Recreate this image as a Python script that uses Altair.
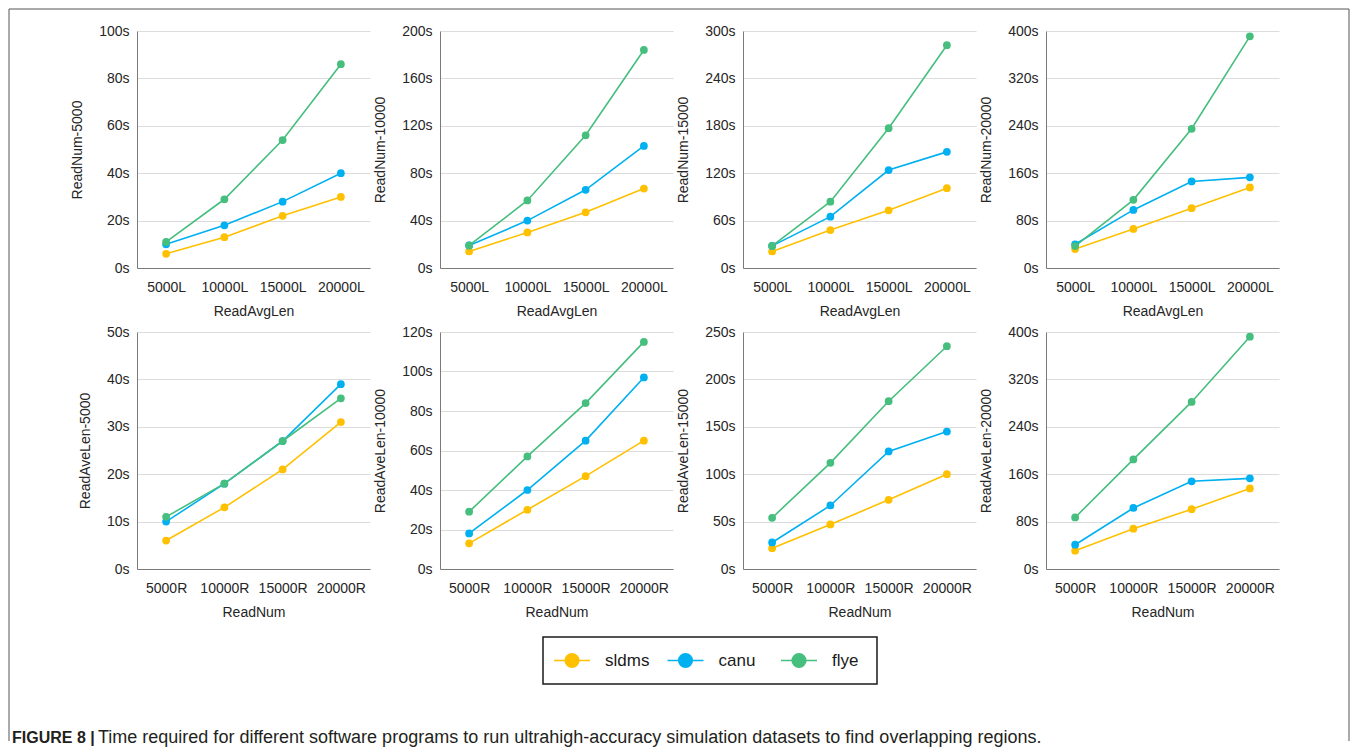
import altair as alt
import pandas as pd

# ---------------- data ----------------
series = ["sldms", "canu", "flye"]
colors = ["#FFC000", "#00B0F0", "#45BE7E"]

x_top = ["5000L", "10000L", "15000L", "20000L"]
x_bottom = ["5000R", "10000R", "15000R", "20000R"]
top_x_title = "ReadAvgLen"
bottom_x_title = "ReadNum"
top_y_titles = ["ReadNum-5000", "ReadNum-10000", "ReadNum-15000", "ReadNum-20000"]
bottom_y_titles = ["ReadAveLen-5000", "ReadAveLen-10000", "ReadAveLen-15000", "ReadAveLen-20000"]

top_y_ticks = [
    [0, 20, 40, 60, 80, 100],
    [0, 40, 80, 120, 160, 200],
    [0, 60, 120, 180, 240, 300],
    [0, 80, 160, 240, 320, 400],
]
bottom_y_ticks = [
    [0, 10, 20, 30, 40, 50],
    [0, 20, 40, 60, 80, 100, 120],
    [0, 50, 100, 150, 200, 250],
    [0, 80, 160, 240, 320, 400],
]

sldms_top = [[6, 13, 22, 30], [14, 30, 47, 67], [21, 48, 73, 101], [32, 66, 101, 136]]
canu_top = [[10, 18, 28, 40], [19, 40, 66, 103], [28, 65, 124, 147], [40, 98, 146, 153]]
flye_top = [[11, 29, 54, 86], [19, 57, 112, 184], [28, 84, 177, 282], [37, 115, 235, 391]]

sldms_bottom = [[6, 13, 21, 31], [13, 30, 47, 65], [22, 47, 73, 100], [31, 68, 101, 136]]
canu_bottom = [[10, 18, 27, 39], [18, 40, 65, 97], [28, 67, 124, 145], [41, 103, 148, 153]]
flye_bottom = [[11, 18, 27, 36], [29, 57, 84, 115], [54, 112, 177, 235], [87, 185, 282, 392]]

caption_bold = "FIGURE 8 |"
caption_text = ("Time required for different software programs to run ultrahigh-accuracy "
                "simulation datasets to find overlapping regions.")

# ---------------- styling ----------------
FONT = "Liberation Sans, Arial, sans-serif"
PLOT_W, PLOT_H = 233, 237
TEXT_COLOR = "#262626"

color_enc = alt.Color("series:N", scale=alt.Scale(domain=series, range=colors), legend=None)


def panel(xcats, xtitle, ytitle, yticks, s_vals, c_vals, f_vals):
    rows = []
    for name, vals in zip(series, [s_vals, c_vals, f_vals]):
        for i, (cat, v) in enumerate(zip(xcats, vals)):
            rows.append({"series": name, "cat": cat, "i": i, "time": v})
    df = pd.DataFrame(rows)
    x = alt.X("cat:N", sort=xcats,
              scale=alt.Scale(type="point", padding=0.5, domain=xcats),
              axis=alt.Axis(title=xtitle, labelAngle=0, grid=False, ticks=False))
    y = alt.Y("time:Q", scale=alt.Scale(domain=[0, yticks[-1]], nice=False),
              axis=alt.Axis(title=ytitle, values=yticks, labelExpr="datum.value + 's'",
                            ticks=False, grid=True))
    base = alt.Chart(df).encode(x=x, y=y, color=color_enc)
    lines = base.mark_line(strokeWidth=1.6).encode(order=alt.Order("i:Q"))
    pts = base.mark_circle(size=60, opacity=1)
    return alt.layer(lines, pts).properties(width=PLOT_W, height=PLOT_H)


panels = []
for k in range(4):
    panels.append(panel(x_top, top_x_title, top_y_titles[k], top_y_ticks[k],
                        sldms_top[k], canu_top[k], flye_top[k]))
for k in range(4):
    panels.append(panel(x_bottom, bottom_x_title, bottom_y_titles[k], bottom_y_ticks[k],
                        sldms_bottom[k], canu_bottom[k], flye_bottom[k]))

# ---------------- bottom: legend, caption, frame ----------------
# small view (so the grid columns stay narrow); its marks overflow the view
BOT_W, BOT_H = PLOT_W, 100
FRAME_R = 1212
one = pd.DataFrame({"a": [0]})
legend_df = pd.DataFrame({"series": series, "idx": list(range(len(series)))})
lx = alt.X("idx:Q", scale=alt.Scale(domain=[0, 2], range=[435, 662]), axis=None)
LY = 27.5

frame_left = alt.Chart(one).mark_rule(color="#555555", strokeWidth=1).encode(
    x=alt.value(-128), y=alt.value(-624), y2=alt.value(108))
frame_top = alt.Chart(one).mark_rule(color="#555555", strokeWidth=1).encode(
    x=alt.value(-128), x2=alt.value(FRAME_R), y=alt.value(-624))
frame_right = alt.Chart(one).mark_rule(color="#555555", strokeWidth=1).encode(
    x=alt.value(FRAME_R), y=alt.value(-624), y2=alt.value(108))

legend_box = alt.Chart(one).mark_rect(fillOpacity=0, stroke="#1a1a1a", strokeWidth=1.5).encode(
    x=alt.value(406), x2=alt.value(740), y=alt.value(4), y2=alt.value(51))
legend_lines = alt.Chart(legend_df).mark_rule(strokeWidth=1.5, xOffset=-18, x2Offset=18).encode(
    x=lx, x2=alt.X2("idx:Q"), y=alt.value(LY), color=color_enc)
legend_pts = alt.Chart(legend_df).mark_circle(size=230, opacity=1).encode(
    x=lx, y=alt.value(LY), color=color_enc)
legend_txt = alt.Chart(legend_df).mark_text(align="left", baseline="middle", dx=33,
                                            fontSize=17, font=FONT, color="#1a1a1a").encode(
    x=lx, y=alt.value(LY), text="series:N")

cap1 = alt.Chart(one).mark_text(align="left", baseline="middle", fontSize=16, fontWeight="bold",
                                font=FONT, color="#231f20").encode(
    x=alt.value(-125), y=alt.value(105), text=alt.value(caption_bold))
cap2 = alt.Chart(one).mark_text(align="left", baseline="middle", fontSize=18,
                                font=FONT, color="#231f20").encode(
    x=alt.value(-39), y=alt.value(105), text=alt.value(caption_text))

bottom = alt.layer(frame_left, frame_top, frame_right, legend_box, legend_lines,
                   legend_pts, legend_txt, cap1, cap2).properties(width=BOT_W, height=BOT_H)

chart = alt.concat(
    *panels, bottom, columns=4,
    spacing={"row": 64, "column": 70}, bounds="flush", align="none",
).resolve_scale(
    x="independent", y="independent"
).properties(
    padding={"left": 0, "top": 0, "right": 0, "bottom": 0}
).configure_view(
    strokeWidth=0
).configure_axis(
    labelFont=FONT, labelFontSize=14, labelColor=TEXT_COLOR,
    titleFont=FONT, titleFontSize=14, titleFontWeight="normal", titleColor=TEXT_COLOR,
    domainColor="#7a7a7a", domainWidth=1, gridColor="#dcdcdc", gridWidth=1,
).configure_axisX(
    labelPadding=12, titlePadding=10
).configure_axisY(
    labelPadding=8, titlePadding=14
)

chart.save("out.html", embed_options={"renderer": "svg", "actions": False})
